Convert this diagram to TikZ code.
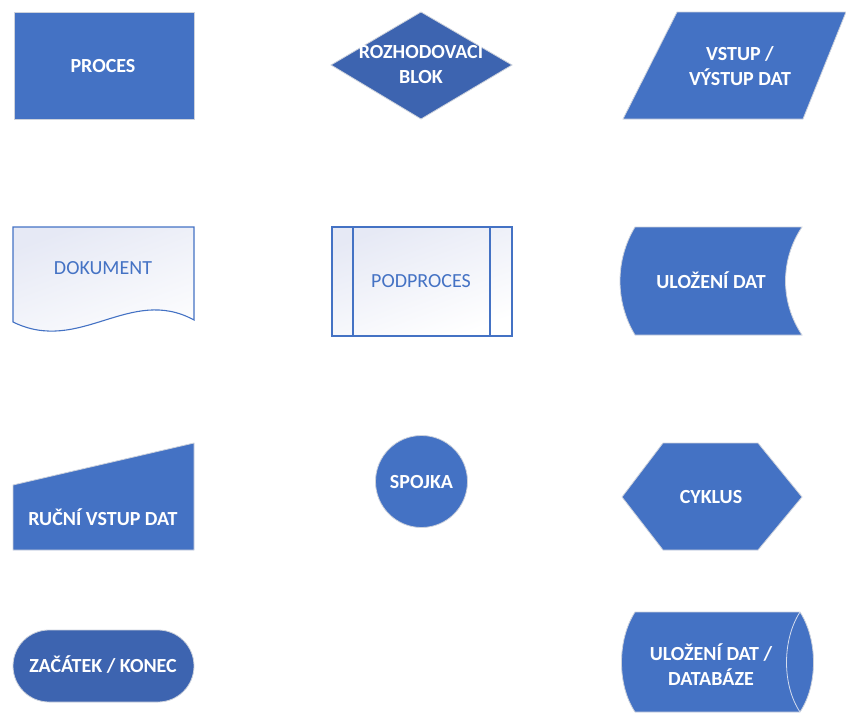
\documentclass[tikz,border=0pt]{standalone}
\usepackage{fontspec}
\setmainfont{Carlito}
\definecolor{fcblue}{HTML}{4472C4}
\definecolor{fcdark}{HTML}{3D64B0}
\definecolor{fcedge}{HTML}{CDD2DC}
\definecolor{fcpale}{HTML}{E6E9F5}
\definecolor{fcinner}{HTML}{D5DDEE}
\begin{document}
\begin{tikzpicture}[x=1pt,y=-1pt,
  solid/.style={fill=fcblue,draw=fcedge,line width=0.8pt},
  soliddark/.style={fill=fcdark,draw=fcedge,line width=0.8pt},
  pale/.style={draw=fcblue,line width=1.1pt,shading=axis,top color=fcpale,bottom color=white,shading angle=20},
  lbl/.style={text=white,font=\bfseries\fontsize{20}{25}\selectfont,align=center,inner sep=0pt},
  lblpale/.style={text=fcblue,font=\fontsize{20}{25}\selectfont,align=center,inner sep=0pt}]
\useasboundingbox (0,0) rectangle (846,715);

% row 1: process, decision, input/output
\path[solid] (14,12) rectangle (194,119);
\node[lbl] (proces) at (103,66) {PROCES};

\path[soliddark] (421,12) -- (512,65) -- (421,119) -- (331,65) -- cycle;
\node[lbl] (rozhod) at (421,65) {ROZHODOVACI\\BLOK};

\path[solid] (677,12) -- (846,12) -- (803,119) -- (623,119) -- cycle;
\node[lbl] (vstup) at (740,66) {VSTUP /\\VÝSTUP DAT};

% row 2: document, subprocess, stored data
\path[pale] (13,227) -- (194,227) -- (194,320)
  .. controls (130,285) and (80,355) .. (13,322) -- cycle;
\node[lblpale] (dokument) at (103,268) {DOKUMENT};

\path[pale] (332,227) rectangle (512,336);
\draw[fcblue,line width=1.1pt] (353,227) -- (353,336) (490,227) -- (490,336);
\node[lblpale] (podproces) at (421,281) {PODPROCES};

\path[solid] (635,227) -- (802,227)
  .. controls (780,260) and (780,302) .. (802,335) -- (635,335)
  .. controls (615,302) and (615,260) .. (635,227) -- cycle;
\node[lbl] (ulozeni) at (711,280) {ULOŽENÍ DAT};

% row 3: manual input, connector, loop
\path[solid] (13,485) -- (194,443) -- (194,550) -- (13,550) -- cycle;
\node[lbl] (rucni) at (103,517) {RUČNÍ VSTUP DAT};

\path[solid] (421.5,481.5) circle[radius=46];
\node[lbl] (spojka) at (421.5,482) {SPOJKA};

\path[solid] (622,497) -- (663,443) -- (758,443) -- (802,497) -- (758,550) -- (663,550) -- cycle;
\node[lbl] (cyklus) at (711,497) {CYKLUS};

% row 4: terminator, database
\path[soliddark,rounded corners=36pt] (13,630) rectangle (194,702);
\node[lbl] (zacatek) at (103,665) {ZAČÁTEK / KONEC};

\path[solid] (635,612) -- (800,612)
  .. controls (818,640) and (818,685) .. (800,712) -- (635,712)
  .. controls (617,685) and (617,640) .. (635,612) -- cycle;
\draw[fcinner,line width=0.8pt] (800,612) .. controls (782,640) and (782,685) .. (800,712);
\node[lbl] (databaze) at (711,665) {ULOŽENÍ DAT /\\DATABÁZE};
\end{tikzpicture}
\end{document}
